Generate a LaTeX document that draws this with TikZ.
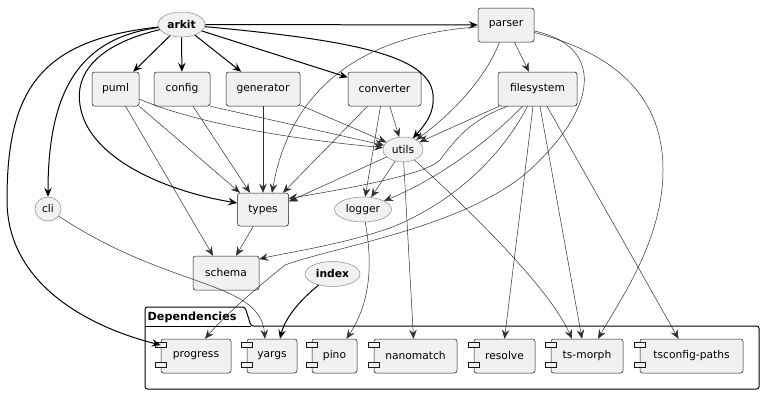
\documentclass[tikz,border=0pt]{standalone}
\usepackage{fontspec}
\setmainfont{DejaVu Sans}
\usetikzlibrary{shapes.geometric, arrows.meta}
\definecolor{boxfill}{HTML}{F1F1F1}
\definecolor{edgec}{HTML}{181818}
\definecolor{ellline}{HTML}{8A8A8A}
\newcommand{\depcomp}[4]{%
  \node[box, minimum width=#3pt] (#1) at (#2,356) {#4};
  \draw[boxline] (#1.west) ++(-6,-13.5) rectangle ++(11,4.5);
  \draw[boxline] (#1.west) ++(-6,6.5) rectangle ++(11,4.5);
}
\begin{document}
\begin{tikzpicture}[x=1pt,y=-1pt,
  font=\fontsize{10.7}{12}\selectfont,
  boxline/.style={draw=edgec, fill=boxfill, line width=0.5pt},
  box/.style={draw=edgec, fill=boxfill, rounded corners=2.5pt, minimum height=34pt, inner sep=0pt, line width=0.5pt},
  ell/.style={ellipse, draw=ellline, fill=boxfill, inner sep=0pt, line width=0.5pt},
  boldtxt/.style={font=\fontsize{10.7}{12}\selectfont\bfseries},
  tip/.tip={Stealth[length=9pt,width=7.5pt,inset=3.2pt]},
  thn/.style={draw=edgec!90, line width=0.5pt, -tip},
  thk/.style={draw=black, line width=1pt, -tip}]
\fill[white] (0,0) rectangle (770,400);
\useasboundingbox (0,0) rectangle (770,400);

% package
\draw[line width=1pt, rounded corners=2.5pt] (145,307) -- (245,307) -- (251,326) -- (759,326) -- (759,389) -- (145,389) -- cycle;
\draw[line width=1pt] (145,326) -- (251,326);
\node[font=\fontsize{11.2}{13}\selectfont\bfseries, anchor=west, inner sep=0pt] (deplabel) at (147.5,317) {Dependencies};

% nodes
\node[ell, boldtxt, minimum width=47pt, minimum height=25pt] (arkit) at (181.5,24.5) {arkit};
\node[box, minimum width=56pt] (parser) at (506,25) {parser};
\node[box, minimum width=47pt] (puml) at (115.5,89) {puml};
\node[box, minimum width=56pt] (config) at (182,89) {config};
\node[box, minimum width=74pt] (generator) at (263,89) {generator};
\node[box, minimum width=73pt] (converter) at (384.5,89) {converter};
\node[box, minimum width=79pt] (filesystem) at (537.5,89) {filesystem};
\node[ell, minimum width=40pt, minimum height=25pt] (utils) at (403,149.5) {utils};
\node[ell, minimum width=26pt, minimum height=24pt] (cli) at (48,209) {cli};
\node[box, minimum width=51pt, minimum height=33pt] (types) at (263,209.5) {types};
\node[ell, minimum width=57pt, minimum height=25pt] (logger) at (363,209.5) {logger};
\node[box, minimum width=66pt] (schema) at (226,273) {schema};
\node[ell, boldtxt, minimum width=55pt, minimum height=25pt] (index) at (332.5,274) {index};

\depcomp{progress}{196}{70}{progress}
\depcomp{yargs}{272}{50}{yargs}
\depcomp{pino}{334.5}{45}{pino}
\depcomp{nanomatch}{415.5}{83}{nanomatch}
\depcomp{resolve}{504.5}{61}{resolve}
\depcomp{tsmorph}{587}{72}{ts-morph}
\depcomp{tsconfig}{691.5}{103}{tsconfig-paths}

% thick edges
\draw[thk] (arkit) -- (parser);
\draw[thk] (arkit) -- (puml);
\draw[thk] (arkit) -- (config);
\draw[thk] (arkit) -- (generator);
\draw[thk] (arkit) -- (converter);
\draw[thk] (arkit) .. controls (350,40) and (430,55) .. (433,95) .. controls (435,115) and (422,128) .. (utils);
\draw[thk] (arkit) .. controls (95,45) and (75,75) .. (80,105) .. controls (88,160) and (170,192) .. ([yshift=6.5pt]types.west);
\draw[thk] (arkit) .. controls (80,38) and (48,90) .. (cli);
\draw[thk] (arkit) .. controls (40,40) and (7,90) .. (7,200) .. controls (7,290) and (100,330) .. ([yshift=11pt]progress.west);
\draw[thk] (index) .. controls (300,300) and (285,318) .. ([xshift=8pt]yargs.north);

% thin edges
\draw[thn] (parser) -- (filesystem);
\draw[thn] (parser) .. controls (485,80) and (450,115) .. (utils);
\draw[thn] (parser) .. controls (360,35) and (290,90) .. ([xshift=9pt]types.north);
\draw[thn] (parser) .. controls (620,55) and (663,100) .. (663,170) .. controls (663,240) and (620,300) .. ([xshift=11pt]tsmorph.north);
\draw[thn] (parser) .. controls (600,45) and (600,100) .. (540,160) .. controls (480,225) and (340,245) .. (285,265) .. controls (260,285) and (225,315) .. ([xshift=9pt]progress.north);

\draw[thn] (filesystem) -- (utils);
\draw[thn] ([xshift=-30pt]filesystem.south) .. controls (470,120) and (455,140) .. (440,160) .. controls (425,175) and (350,188) .. ([yshift=11pt]types.east);
\draw[thn] ([xshift=-15pt]filesystem.south) .. controls (490,140) and (440,178) .. (logger);
\draw[thn] ([xshift=-10pt]filesystem.south) .. controls (505,150) and (460,200) .. (390,228) .. controls (340,245) and (290,252) .. ([yshift=14pt]schema.east);
\draw[thn] ([xshift=-4.5pt]filesystem.south) -- (resolve.north);
\draw[thn] ([xshift=2.5pt]filesystem.south) -- ([xshift=-5pt]tsmorph.north);
\draw[thn] ([xshift=9.5pt]filesystem.south) -- ([xshift=-13pt]tsconfig.north);

\draw[thn] (puml) .. controls (200,125) and (300,140) .. (utils);
\draw[thn] (config.south east) -- (utils);
\draw[thn] (generator) -- (utils);
\draw[thn] (puml.south east) -- ([xshift=-23pt]types.north);
\draw[thn] ([xshift=10pt]puml.south) -- ([xshift=-13pt]schema.north);
\draw[thn] ([xshift=11pt]config.south) -- ([xshift=-13pt]types.north);
\draw[thn] (generator) -- (types);
\draw[thn] ([xshift=-17pt]converter.south) -- ([xshift=20pt]types.north);
\draw[thn] (converter) -- (utils);
\draw[thn] ([xshift=-4pt]converter.south) -- (logger.80);
\draw[thn] (utils) -- ([yshift=8pt]types.east);
\draw[thn] (utils) -- (logger);
\draw[thn] (utils) -- ([xshift=-2pt]nanomatch.north);
\draw[thn] (utils) .. controls (480,220) and (550,290) .. ([xshift=-15pt]tsmorph.north);
\draw[thn] (logger) .. controls (372,260) and (372,300) .. ([xshift=12pt]pino.north);
\draw[thn] (cli) .. controls (170,290) and (260,280) .. ([xshift=-7pt]yargs.north);
\draw[thn] (types) -- (schema);
\end{tikzpicture}
\end{document}
